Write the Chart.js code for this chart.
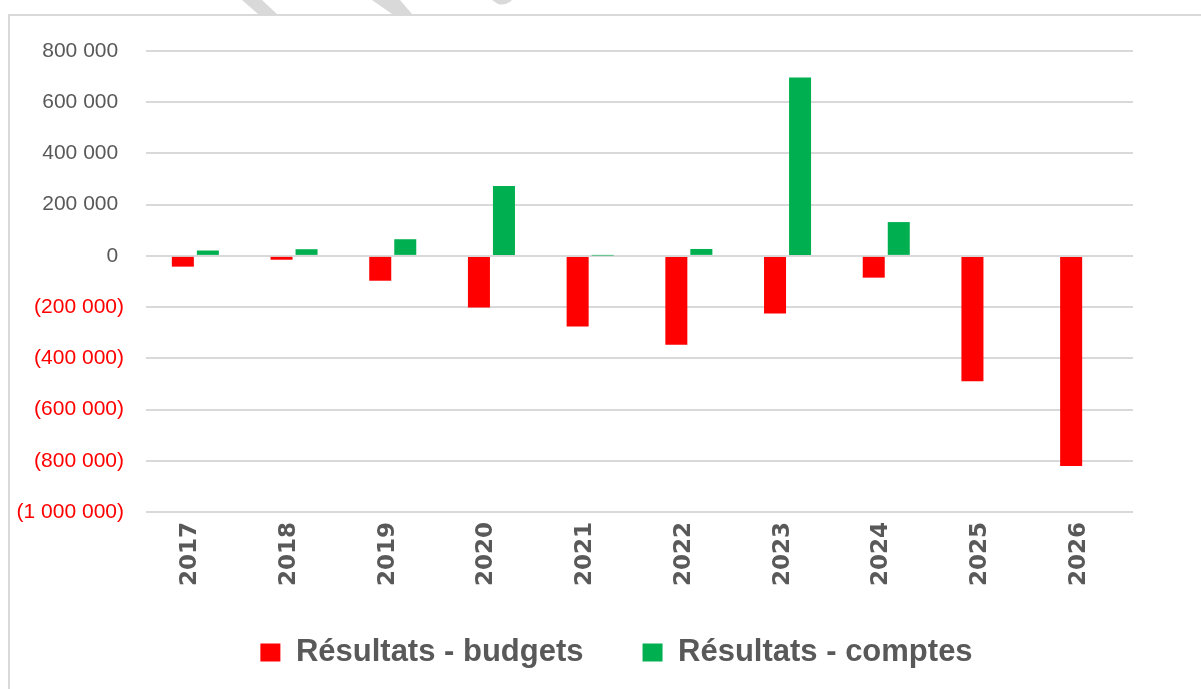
<!DOCTYPE html>
<html>
<head>
<meta charset="utf-8">
<script src="https://cdn.jsdelivr.net/npm/chart.js@4/dist/chart.umd.min.js"></script>
<style>
  html, body { margin: 0; padding: 0; background: #fff; overflow: hidden; }
  #frame { position: absolute; left: 8px; top: 14px; width: 1300px; height: 800px; border: 2px solid #d9d9d9; box-sizing: border-box; }
  #marks { position: absolute; left: 0; top: 0; }
  #myChart { position: absolute; left: 0; top: 0; }
</style>
</head>
<body>
<div id="frame"></div>
<svg id="marks" width="1201" height="14">
  <polygon points="242,0 262,0 277,14 258,14" fill="#d9d9d9"/>
  <polygon points="372,0 400,0 412,14 392,14" fill="#d9d9d9"/>
  <path d="M492,0 L512,0 Q506,6 498,4 Z" fill="#d9d9d9"/>
</svg>
<canvas id="myChart" width="1201" height="689"></canvas>
<script>
years = ['2017','2018','2019','2020','2021','2022','2023','2024','2025','2026']
budgets = [-42000, -15000, -97000, -202000, -276000, -347000, -225000, -85000, -490000, -820000]
comptes = [21000, 26000, 65000, 273000, 1500, 27000, 697000, 132000, null, null]
y_min = -1000000
y_max = 800000
y_step = 200000

function format_number(v) {
    var s = Math.abs(v).toFixed(0).replace(/\B(?=(\d{3})+(?!\d))/g, ' ')
    if (v < 0) return '(' + s + ')'
    return s + ' '
}

// the legend takes less room above its items, and sits a bit to the right
legend_trim = 10
const legend_shift = {
    id: 'legend_shift',
    beforeLayout: (chart) => {
        var lg = chart.legend;
        if (!lg._trimmed) {
            var fit = lg.fit;
            lg.fit = function () { fit.call(this); this.height -= legend_trim; };
            lg._trimmed = true;
        }
    },
    afterLayout: (chart) => {
        chart.legend.left += 42;
        chart.legend.right += 42;
        chart.legend.top -= legend_trim;
    }
};

var the_chart_canvas = document.getElementById('myChart').getContext('2d');
var myChart = new Chart(the_chart_canvas, {
    type: 'bar',
    data: {
        labels: years,
        datasets: [
            {
                label: 'Résultats - budgets',
                data: budgets,
                backgroundColor: '#ff0000',
                categoryPercentage: 0.507,
                barPercentage: 0.88
            },
            {
                label: 'Résultats - comptes',
                data: comptes,
                backgroundColor: '#00b050',
                categoryPercentage: 0.507,
                barPercentage: 0.88
            }
        ]
    },
    options: {
        responsive: false,
        animation: false,
        layout: { padding: { left: 16, right: 68, top: 51, bottom: 11 } },
        plugins: {
            tooltip: { enabled: false },
            legend: {
                position: 'bottom',
                labels: {
                    boxWidth: 20,
                    boxHeight: 18,
                    padding: 59,
                    color: '#595959',
                    font: { family: 'Liberation Sans', size: 31, weight: 'bold' }
                }
            }
        },
        scales: {
            x: {
                grid: { display: false },
                border: { display: false },
                ticks: {
                    minRotation: 90,
                    maxRotation: 90,
                    padding: 2,
                    labelOffset: -5,
                    color: '#595959',
                    font: { family: 'DejaVu Sans', size: 23, weight: 'bold' }
                }
            },
            y: {
                min: y_min,
                max: y_max,
                border: { display: false },
                grid: { color: '#d9d9d9', lineWidth: 2, drawTicks: false },
                afterFit: (scale) => { scale.width = 130 },
                ticks: {
                    stepSize: y_step,
                    padding: 22,
                    font: { family: 'Liberation Sans', size: 21 },
                    color: function (ctx) { return ctx.tick.value < 0 ? '#ff0000' : '#595959' },
                    callback: function (value) { return format_number(value) }
                }
            }
        }
    },
    plugins: [legend_shift]
});
</script>
</body>
</html>
